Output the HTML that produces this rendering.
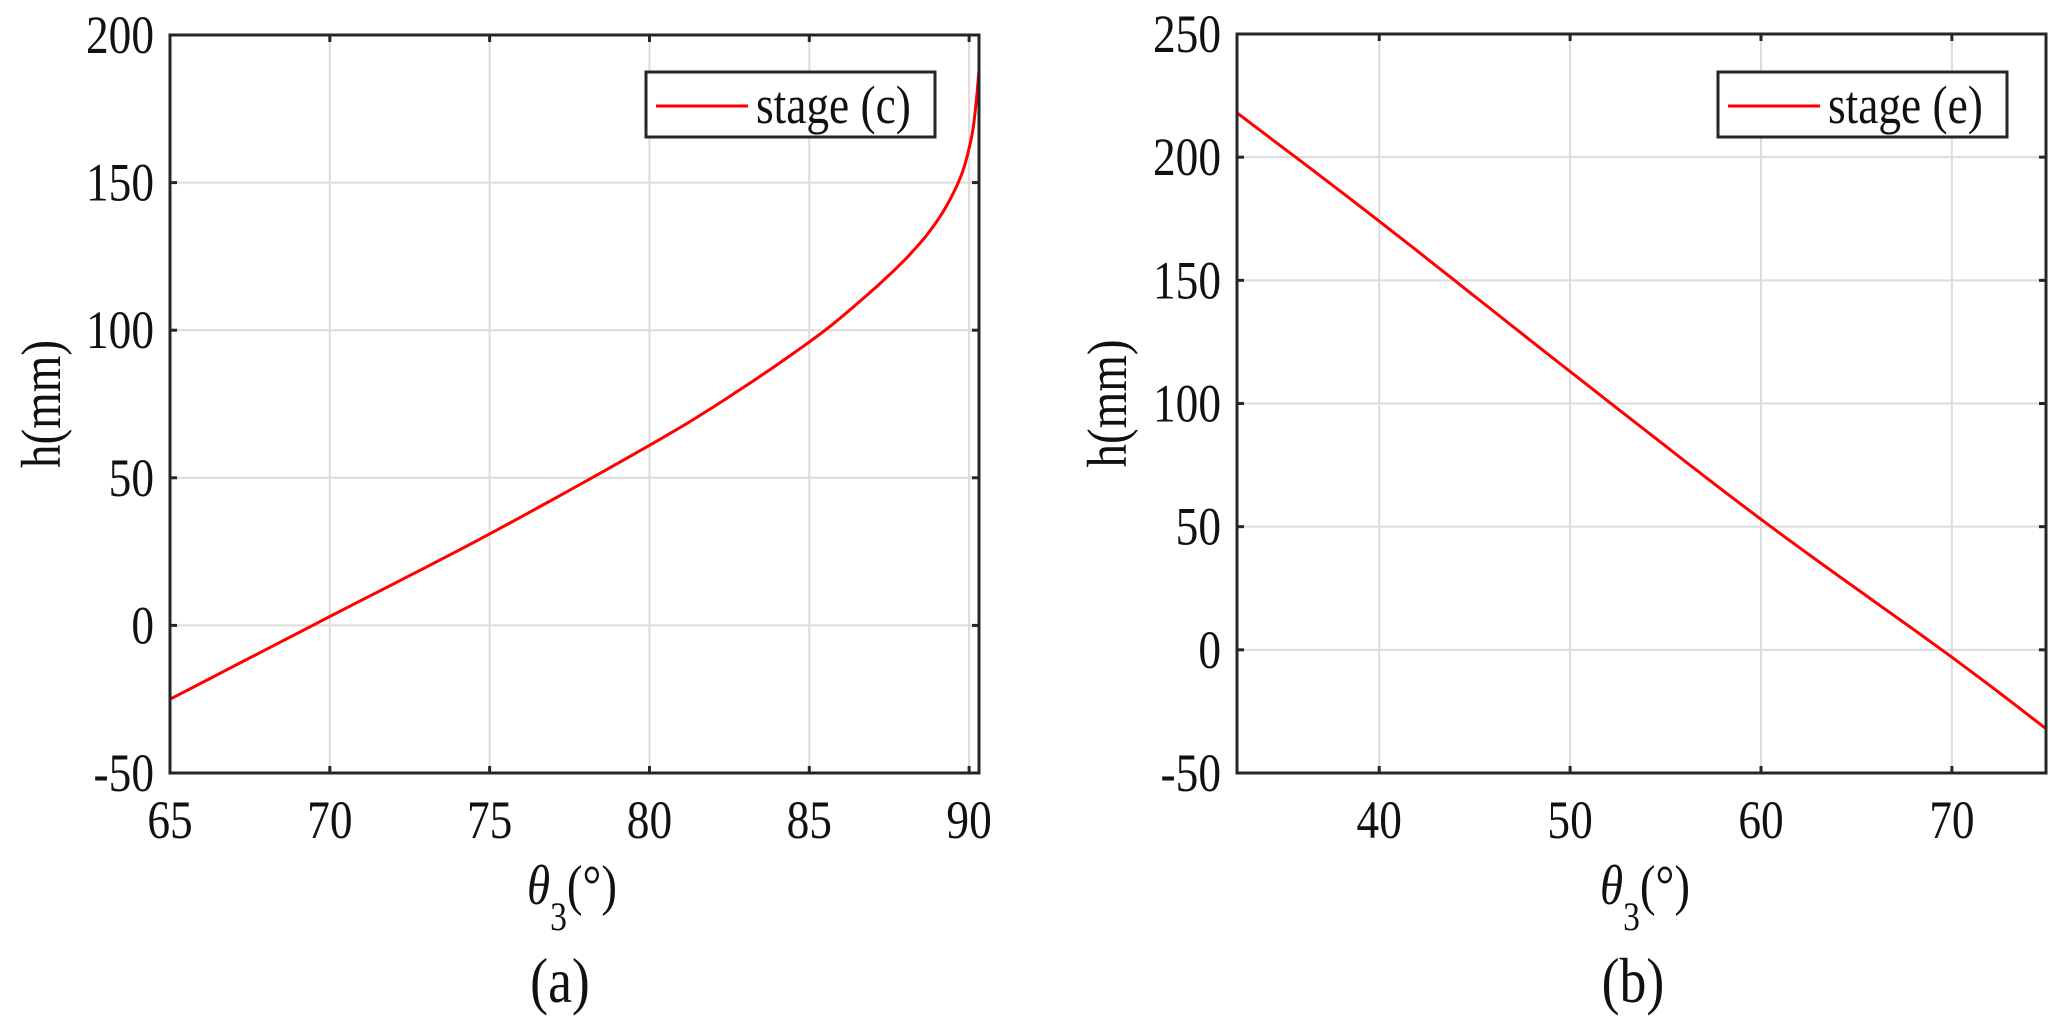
<!DOCTYPE html>
<html><head><meta charset="utf-8"><style>
html,body{margin:0;padding:0;background:#fff;}
svg{display:block;font-family:"Liberation Serif",serif;}
</style></head><body>
<svg id="s" width="2067" height="1034" viewBox="0 0 2067 1034" xmlns="http://www.w3.org/2000/svg"></svg>
<script>
const s=document.getElementById('s');let h='';
const SX=0.84;
function T(x,y,size,anchor,content,extra){return `<text transform="translate(${x},${y}) scale(${SX},1)${extra||''}" font-size="${size}" text-anchor="${anchor}" fill="#111">${content}</text>`;}
function smooth(k,n){const out=[];for(let i=0;i<k.length-1;i++){const p0=k[Math.max(i-1,0)],p1=k[i],p2=k[i+1],p3=k[Math.min(i+2,k.length-1)];
 for(let j=0;j<n;j++){const t=j/n,t2=t*t,t3=t2*t;const f=(a,b,c,d)=>0.5*((2*b)+(-a+c)*t+(2*a-5*b+4*c-d)*t2+(-a+3*b-3*c+d)*t3);
 out.push([f(p0[0],p1[0],p2[0],p3[0]),f(p0[1],p1[1],p2[1],p3[1])]);}}out.push(k[k.length-1]);return out;}
function ax(o){
 const {L,R,T:Tp,B,xmin,xmax,ymin,ymax,xt,yt,pts,leg,legText,ylx,xlc,cap}=o;
 const X=v=>L+(v-xmin)/(xmax-xmin)*(R-L), Y=v=>B-(v-ymin)/(ymax-ymin)*(B-Tp);
 for(const v of xt){const x=X(v);h+=`<line x1="${x}" y1="${Tp}" x2="${x}" y2="${B}" stroke="#dcdcdc" stroke-width="2"/>`;}
 for(const v of yt){const y=Y(v);h+=`<line x1="${L}" y1="${y}" x2="${R}" y2="${y}" stroke="#dcdcdc" stroke-width="2"/>`;}
 let d='';pts.forEach((p,i)=>{d+=(i?'L':'M')+X(p[0]).toFixed(1)+','+Y(p[1]).toFixed(1);});
 h+=`<path d="${d}" fill="none" stroke="#ff0000" stroke-width="3"/>`;
 h+=`<rect x="${L}" y="${Tp}" width="${R-L}" height="${B-Tp}" fill="none" stroke="#262626" stroke-width="3"/>`;
 for(const v of xt){const x=X(v);h+=`<line x1="${x}" y1="${B}" x2="${x}" y2="${B-7}" stroke="#262626" stroke-width="3"/><line x1="${x}" y1="${Tp}" x2="${x}" y2="${Tp+7}" stroke="#262626" stroke-width="3"/>`+T(x,838,54,'middle',v);}
 for(const v of yt){const y=Y(v);h+=`<line x1="${L}" y1="${y}" x2="${L+7}" y2="${y}" stroke="#262626" stroke-width="3"/><line x1="${R}" y1="${y}" x2="${R-7}" y2="${y}" stroke="#262626" stroke-width="3"/>`;}
 for(const v of [-50,0,50,100,150,200,250]){if(v>ymax)continue;h+=T(L-16,Y(v)+18,54,'end',v);}
 h+=`<text transform="translate(${ylx},${(Tp+B)/2}) rotate(-90) scale(${SX},1)" font-size="56" text-anchor="middle" fill="#111">h(mm)</text>`;
 h+=T(xlc,904,56,'middle',`<tspan font-style="italic">θ</tspan><tspan font-size="40" dy="26">3</tspan><tspan dy="-26">(°)</tspan>`);
 h+=T(xlc-12,1002,64,'middle',cap);
 h+=`<rect x="${leg[0]}" y="72" width="${leg[1]-leg[0]}" height="65" fill="#fff" stroke="#262626" stroke-width="3"/>`;
 h+=`<line x1="${leg[0]+10}" y1="106" x2="${leg[0]+102}" y2="106" stroke="#ff0000" stroke-width="3"/>`;
 h+=T(leg[0]+110,123,54,'start',legText);
}
const lk=[[65,-25],[70,3],[75,31],[80,61],[82.5,77.5],[85,96],[86.5,109],[88,124],[89,137],[89.7,151],[90.05,164],[90.2,175],[90.31,188]];
ax({L:170,R:979,T:35,B:773,xmin:65,xmax:90.31,ymin:-50,ymax:200,xt:[65,70,75,80,85,90],yt:[-50,0,50,100,150,200],
 pts:smooth(lk,10),leg:[646,935],legText:'stage (c)',ylx:60,xlc:572,cap:'(a)'});
const rk=[[32.55,218],[40,174],[50,113],[60,53],[70,-3],[74.93,-32]];
ax({L:1237,R:2046,T:34,B:773,xmin:32.55,xmax:74.93,ymin:-50,ymax:250,xt:[40,50,60,70],yt:[-50,0,50,100,150,200,250],
 pts:smooth(rk,10),leg:[1718,2007],legText:'stage (e)',ylx:1126,xlc:1645,cap:'(b)'});
s.innerHTML=h;
</script>
</body></html>
